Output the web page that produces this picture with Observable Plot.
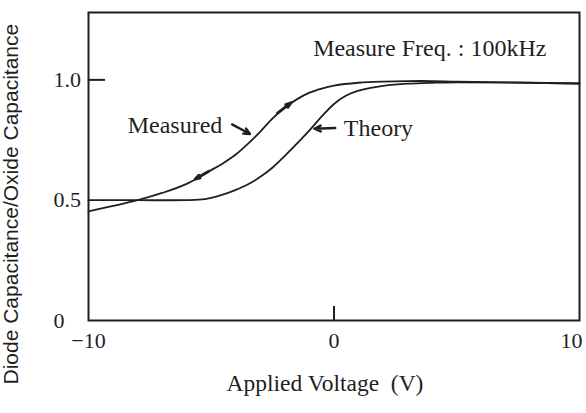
<!DOCTYPE html>
<html>
<head>
<meta charset="utf-8">
<script src="https://cdn.jsdelivr.net/npm/d3@7"></script>
<script src="https://cdn.jsdelivr.net/npm/@observablehq/plot@0.6"></script>
<style>
  html, body { margin: 0; padding: 0; background: #fff; }
  #chart { width: 586px; height: 413px; overflow: hidden; }
</style>
</head>
<body>
<div id="chart"></div>
<script>
// C–V characteristic of the diode: capacitance normalised by oxide capacitance
const measuredV = [-10, -9, -8, -7, -6, -5, -4.5, -4, -3.5, -3, -2.5, -2, -1.5, -1, -0.5, 0, 1, 2, 3, 4, 5, 10];
const measuredC = [0.454, 0.476, 0.50, 0.53, 0.568, 0.625, 0.655, 0.69, 0.735, 0.785, 0.84, 0.885, 0.92, 0.947, 0.964, 0.976, 0.988, 0.993, 0.995, 0.995, 0.993, 0.985];

const theoryV = [-10, -8, -6, -5.5, -5, -4.5, -4, -3.5, -3, -2.5, -2, -1.5, -1, -0.5, 0, 0.5, 1, 1.5, 2, 3, 4, 5, 10];
const theoryC = [0.5, 0.5, 0.5, 0.502, 0.51, 0.524, 0.543, 0.566, 0.597, 0.636, 0.684, 0.736, 0.79, 0.848, 0.9, 0.935, 0.955, 0.967, 0.975, 0.984, 0.988, 0.99, 0.985];

const xTicks = [-10, 0];
const xTickEnd = [10];
const yTicks = [0, 0.5, 1.0];
const yTickLabels = ["0", "0.5", "1.0"];

// sweep-direction arrowheads on the measured curve (from → to)
const sweepArrows = [
  {x1: -2.3, y1: 0.862, x2: -1.75, y2: 0.905},
  {x1: -5.1, y1: 0.62, x2: -5.65, y2: 0.588}
];

// callout labels and their pointers
const measuredLabel = [{text: "Measured", x: -4.55, y: 0.81}];
const theoryLabel = [{text: "Theory", x: 0.4, y: 0.80}];
const pointers = [
  {x1: -4.15, y1: 0.815, x2: -3.42, y2: 0.775},
  {x1: 0.05, y1: 0.80, x2: -0.8, y2: 0.797}
];
const note = [{text: "Measure Freq. : 100kHz", x: -0.85, y: 1.133}];

const measured = measuredV.map((v, i) => ({v, c: measuredC[i]}));
const theory = theoryV.map((v, i) => ({v, c: theoryC[i]}));

const ink = "#1f1f1f";
const serif = "'Liberation Serif', serif";

const chart = Plot.plot({
  width: 586,
  height: 413,
  marginLeft: 88,
  marginRight: 7,
  marginTop: 12,
  marginBottom: 93,
  style: {fontFamily: serif, fontSize: "22px", color: ink, background: "#fff"},
  x: {domain: [-10, 10]},
  y: {domain: [0, 1.28]},
  marks: [
    // tick labels
    Plot.axisX({ticks: xTicks, tickSize: 0, tickPadding: 12, label: null, fill: ink}),
    Plot.axisX({ticks: xTickEnd, tickSize: 0, tickPadding: 12, label: null, fill: ink, dx: -8}),
    Plot.axisY({ticks: yTicks, tickSize: 0, tickFormat: (d, i) => yTickLabels[i], textAnchor: "start", dx: -26, label: null, fill: ink}),
    // inward tick marks
    Plot.axisY({ticks: [1.0], tickSize: -17, tickFormat: () => "", label: null, strokeWidth: 2, stroke: ink}),
    Plot.axisX({ticks: [0], tickSize: -14, tickFormat: () => "", label: null, strokeWidth: 2, stroke: ink}),
    // curves
    Plot.line(theory, {x: "v", y: "c", curve: "catmull-rom", stroke: ink, strokeWidth: 1.8}),
    Plot.line(measured, {x: "v", y: "c", curve: "catmull-rom", stroke: ink, strokeWidth: 1.8}),
    Plot.arrow(sweepArrows, {x1: "x1", y1: "y1", x2: "x2", y2: "y2", stroke: ink, strokeWidth: 2.8, headLength: 12, headAngle: 35}),
    // annotations
    Plot.arrow(pointers, {x1: "x1", y1: "y1", x2: "x2", y2: "y2", stroke: ink, strokeWidth: 2.4, headLength: 9, headAngle: 50}),
    Plot.text(measuredLabel, {x: "x", y: "y", text: "text", textAnchor: "end", fill: ink, fontSize: 24}),
    Plot.text(theoryLabel, {x: "x", y: "y", text: "text", textAnchor: "start", fill: ink, fontSize: 24}),
    Plot.text(note, {x: "x", y: "y", text: "text", textAnchor: "start", fill: ink, fontSize: 24}),
    // axis titles
    Plot.text(["Applied Voltage  (V)"], {frameAnchor: "bottom", dx: -9, dy: 70, fill: ink, fontSize: 23.5}),
    Plot.text(["Diode Capacitance/Oxide Capacitance"], {frameAnchor: "bottom-left", rotate: -90, textAnchor: "start", dx: -71, dy: 64, fill: ink, fontSize: 21, fontFamily: "'Liberation Sans', sans-serif"}),
    Plot.frame({stroke: ink, strokeWidth: 2})
  ]
});

document.getElementById("chart").append(chart);
</script>
</body>
</html>
